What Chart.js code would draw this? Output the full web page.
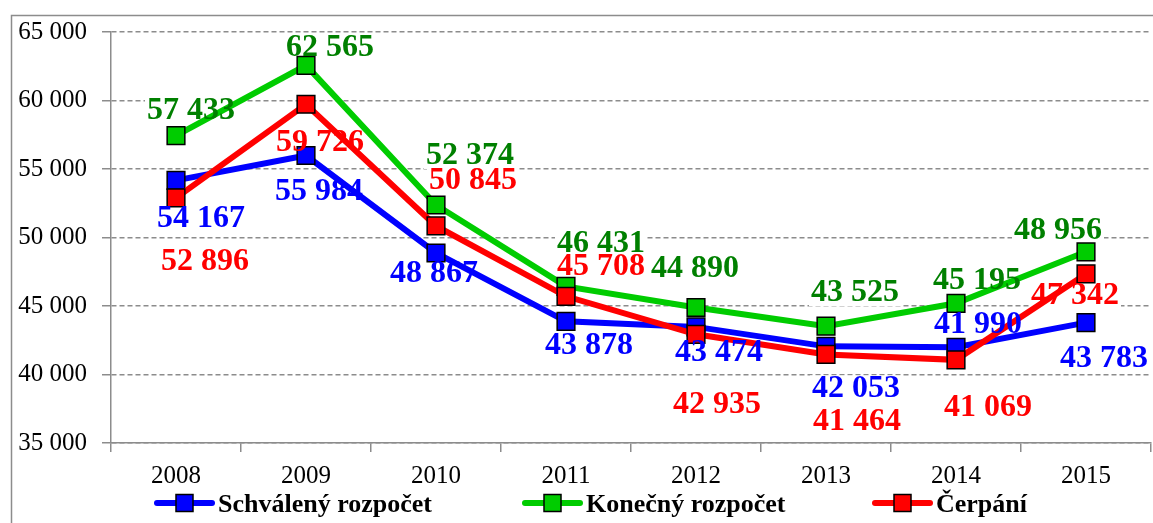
<!DOCTYPE html>
<html>
<head>
<meta charset="utf-8">
<script src="https://cdn.jsdelivr.net/npm/chart.js@4"></script>
<style>
    html, body { margin: 0; padding: 0; overflow: hidden; background: #fff; }
    #wrap { position: relative; width: 1165px; height: 523px; }
</style>
</head>
<body>
<div id="wrap"><canvas id="graf" width="1165" height="523"></canvas></div>
<script>
// Data
const roky = ['2008', '2009', '2010', '2011', '2012', '2013', '2014', '2015'];
const schvaleny = [54167, 55984, 48867, 43878, 43474, 42053, 41990, 43783];
const konecny = [57433, 62565, 52374, 46431, 44890, 43525, 45195, 48956];
const cerpani = [52896, 59726, 50845, 45708, 42935, 41464, 41069, 47342];
const osaY = [35000, 40000, 45000, 50000, 55000, 60000, 65000];

// Formát čísla s mezerou jako oddělovačem tisíců
function cislo(v) {
    return String(v).replace(/\B(?=(\d{3})+(?!\d))/g, ' ');
}

const serif = 'Liberation Serif, Times New Roman, serif';

// Posuny popisků od bodu (dx, dy v px) - ruční rozmístění jako v originále
const posuny = [
    [[25, 38], [13, 36], [-2, 21], [23, 24], [23, 26], [30, 42], [22, -23], [18, 36]],
    [[15, -25], [24, -18], [34, -49], [35, -43], [-1, -39], [29, -33], [21, -23], [-28, -21]],
    [[29, 64], [14, 38], [37, -45], [35, -30], [21, 70], [31, 67], [32, 48], [-11, 22]]
];
const barvyPopisku = ['#0000ff', '#008000', '#ff0000'];

// Rámeček grafu
const ramecek = {
    id: 'ramecek',
    beforeDraw(chart) {
        const ctx = chart.ctx;
        ctx.save();
        ctx.strokeStyle = '#8c8c8c';
        ctx.lineWidth = 1.5;
        ctx.beginPath();
        ctx.moveTo(11.5, 523);
        ctx.lineTo(11.5, 15.5);
        ctx.lineTo(1165, 15.5);
        ctx.stroke();
        ctx.restore();
    }
};

// Popisky hodnot: bílé pozadí pod čarami, text nad nimi
function pozicePopisku(chart, cb) {
    chart.data.datasets.forEach((ds, i) => {
        const meta = chart.getDatasetMeta(i);
        meta.data.forEach((pt, j) => {
            const p = posuny[i][j];
            cb(cislo(ds.data[j]), pt.x + p[0], pt.y + p[1], i);
        });
    });
}

const popisky = {
    id: 'popisky',
    beforeDatasetsDraw(chart) {
        const ctx = chart.ctx;
        ctx.save();
        ctx.font = 'bold 32px ' + serif;
        ctx.fillStyle = '#fff';
        pozicePopisku(chart, (txt, x, y) => {
            const w = ctx.measureText(txt).width + 4;
            ctx.fillRect(x - w / 2, y - 13, w, 26);
        });
        ctx.restore();
    },
    afterDatasetsDraw(chart) {
        const ctx = chart.ctx;
        ctx.save();
        ctx.font = 'bold 32px ' + serif;
        ctx.textAlign = 'center';
        ctx.textBaseline = 'middle';
        pozicePopisku(chart, (txt, x, y, i) => {
            ctx.fillStyle = barvyPopisku[i];
            ctx.fillText(txt, x, y);
        });
        ctx.restore();
    }
};

// Legenda dole
const legenda = {
    id: 'legenda',
    afterDraw(chart) {
        const ctx = chart.ctx;
        const starty = [157, 525, 875];
        const y = 503;
        ctx.save();
        chart.data.datasets.forEach((ds, i) => {
            const x0 = starty[i];
            ctx.strokeStyle = ds.borderColor;
            ctx.lineWidth = 6;
            ctx.lineCap = 'round';
            ctx.beginPath();
            ctx.moveTo(x0, y);
            ctx.lineTo(x0 + 55, y);
            ctx.stroke();
            ctx.fillStyle = ds.pointBackgroundColor;
            ctx.fillRect(x0 + 19, y - 8.5, 17, 17);
            ctx.lineWidth = 1.5;
            ctx.strokeStyle = '#000';
            ctx.strokeRect(x0 + 19, y - 8.5, 17, 17);
            ctx.fillStyle = '#000';
            ctx.font = 'bold 26px ' + serif;
            ctx.textBaseline = 'alphabetic';
            ctx.fillText(ds.label, x0 + 61, 512);
        });
        ctx.restore();
    }
};

function rada(label, data, barva, poradi) {
    return {
        label: label,
        data: data,
        borderColor: barva,
        backgroundColor: barva,
        borderWidth: 6,
        tension: 0,
        pointStyle: 'rect',
        pointRadius: 12.5,
        pointHoverRadius: 12.5,
        pointBackgroundColor: barva,
        pointBorderColor: '#000',
        pointBorderWidth: 1.5,
        order: poradi
    };
}

new Chart(document.getElementById('graf').getContext('2d'), {
    type: 'line',
    data: {
        labels: roky,
        datasets: [
            rada('Schválený rozpočet', schvaleny, '#0000ff', 2),
            rada('Konečný rozpočet', konecny, '#00cc00', 1),
            rada('Čerpání', cerpani, '#ff0000', 0)
        ]
    },
    options: {
        responsive: false,
        animation: false,
        devicePixelRatio: 1,
        layout: { padding: { top: 32, right: 6, left: 0, bottom: 0 } },
        plugins: {
            legend: { display: false },
            tooltip: { enabled: false }
        },
        scales: {
            x: {
                offset: true,
                grid: {
                    offset: true,
                    drawOnChartArea: false,
                    color: '#8c8c8c',
                    lineWidth: 1.5,
                    tickLength: 9
                },
                border: { color: '#8c8c8c', width: 1.5 },
                ticks: {
                    color: '#000',
                    font: { family: serif, size: 25 },
                    padding: 9,
                    maxRotation: 0
                },
                afterFit(s) { s.height = 80; }
            },
            y: {
                min: 35000,
                max: 65000,
                afterBuildTicks(s) { s.ticks = osaY.map(v => ({ value: v })); },
                grid: {
                    color: '#8c8c8c',
                    lineWidth: 1.5,
                    tickLength: 9,
                    borderDash: [5, 3],
                    tickBorderDash: []
                },
                border: { color: '#8c8c8c', width: 1.5, dash: [5, 3] },
                ticks: {
                    color: '#000',
                    font: { family: serif, size: 25 },
                    padding: 15,
                    callback: v => cislo(v)
                },
                afterFit(s) { s.width = 111; }
            }
        }
    },
    plugins: [ramecek, popisky, legenda]
});
</script>
</body>
</html>
